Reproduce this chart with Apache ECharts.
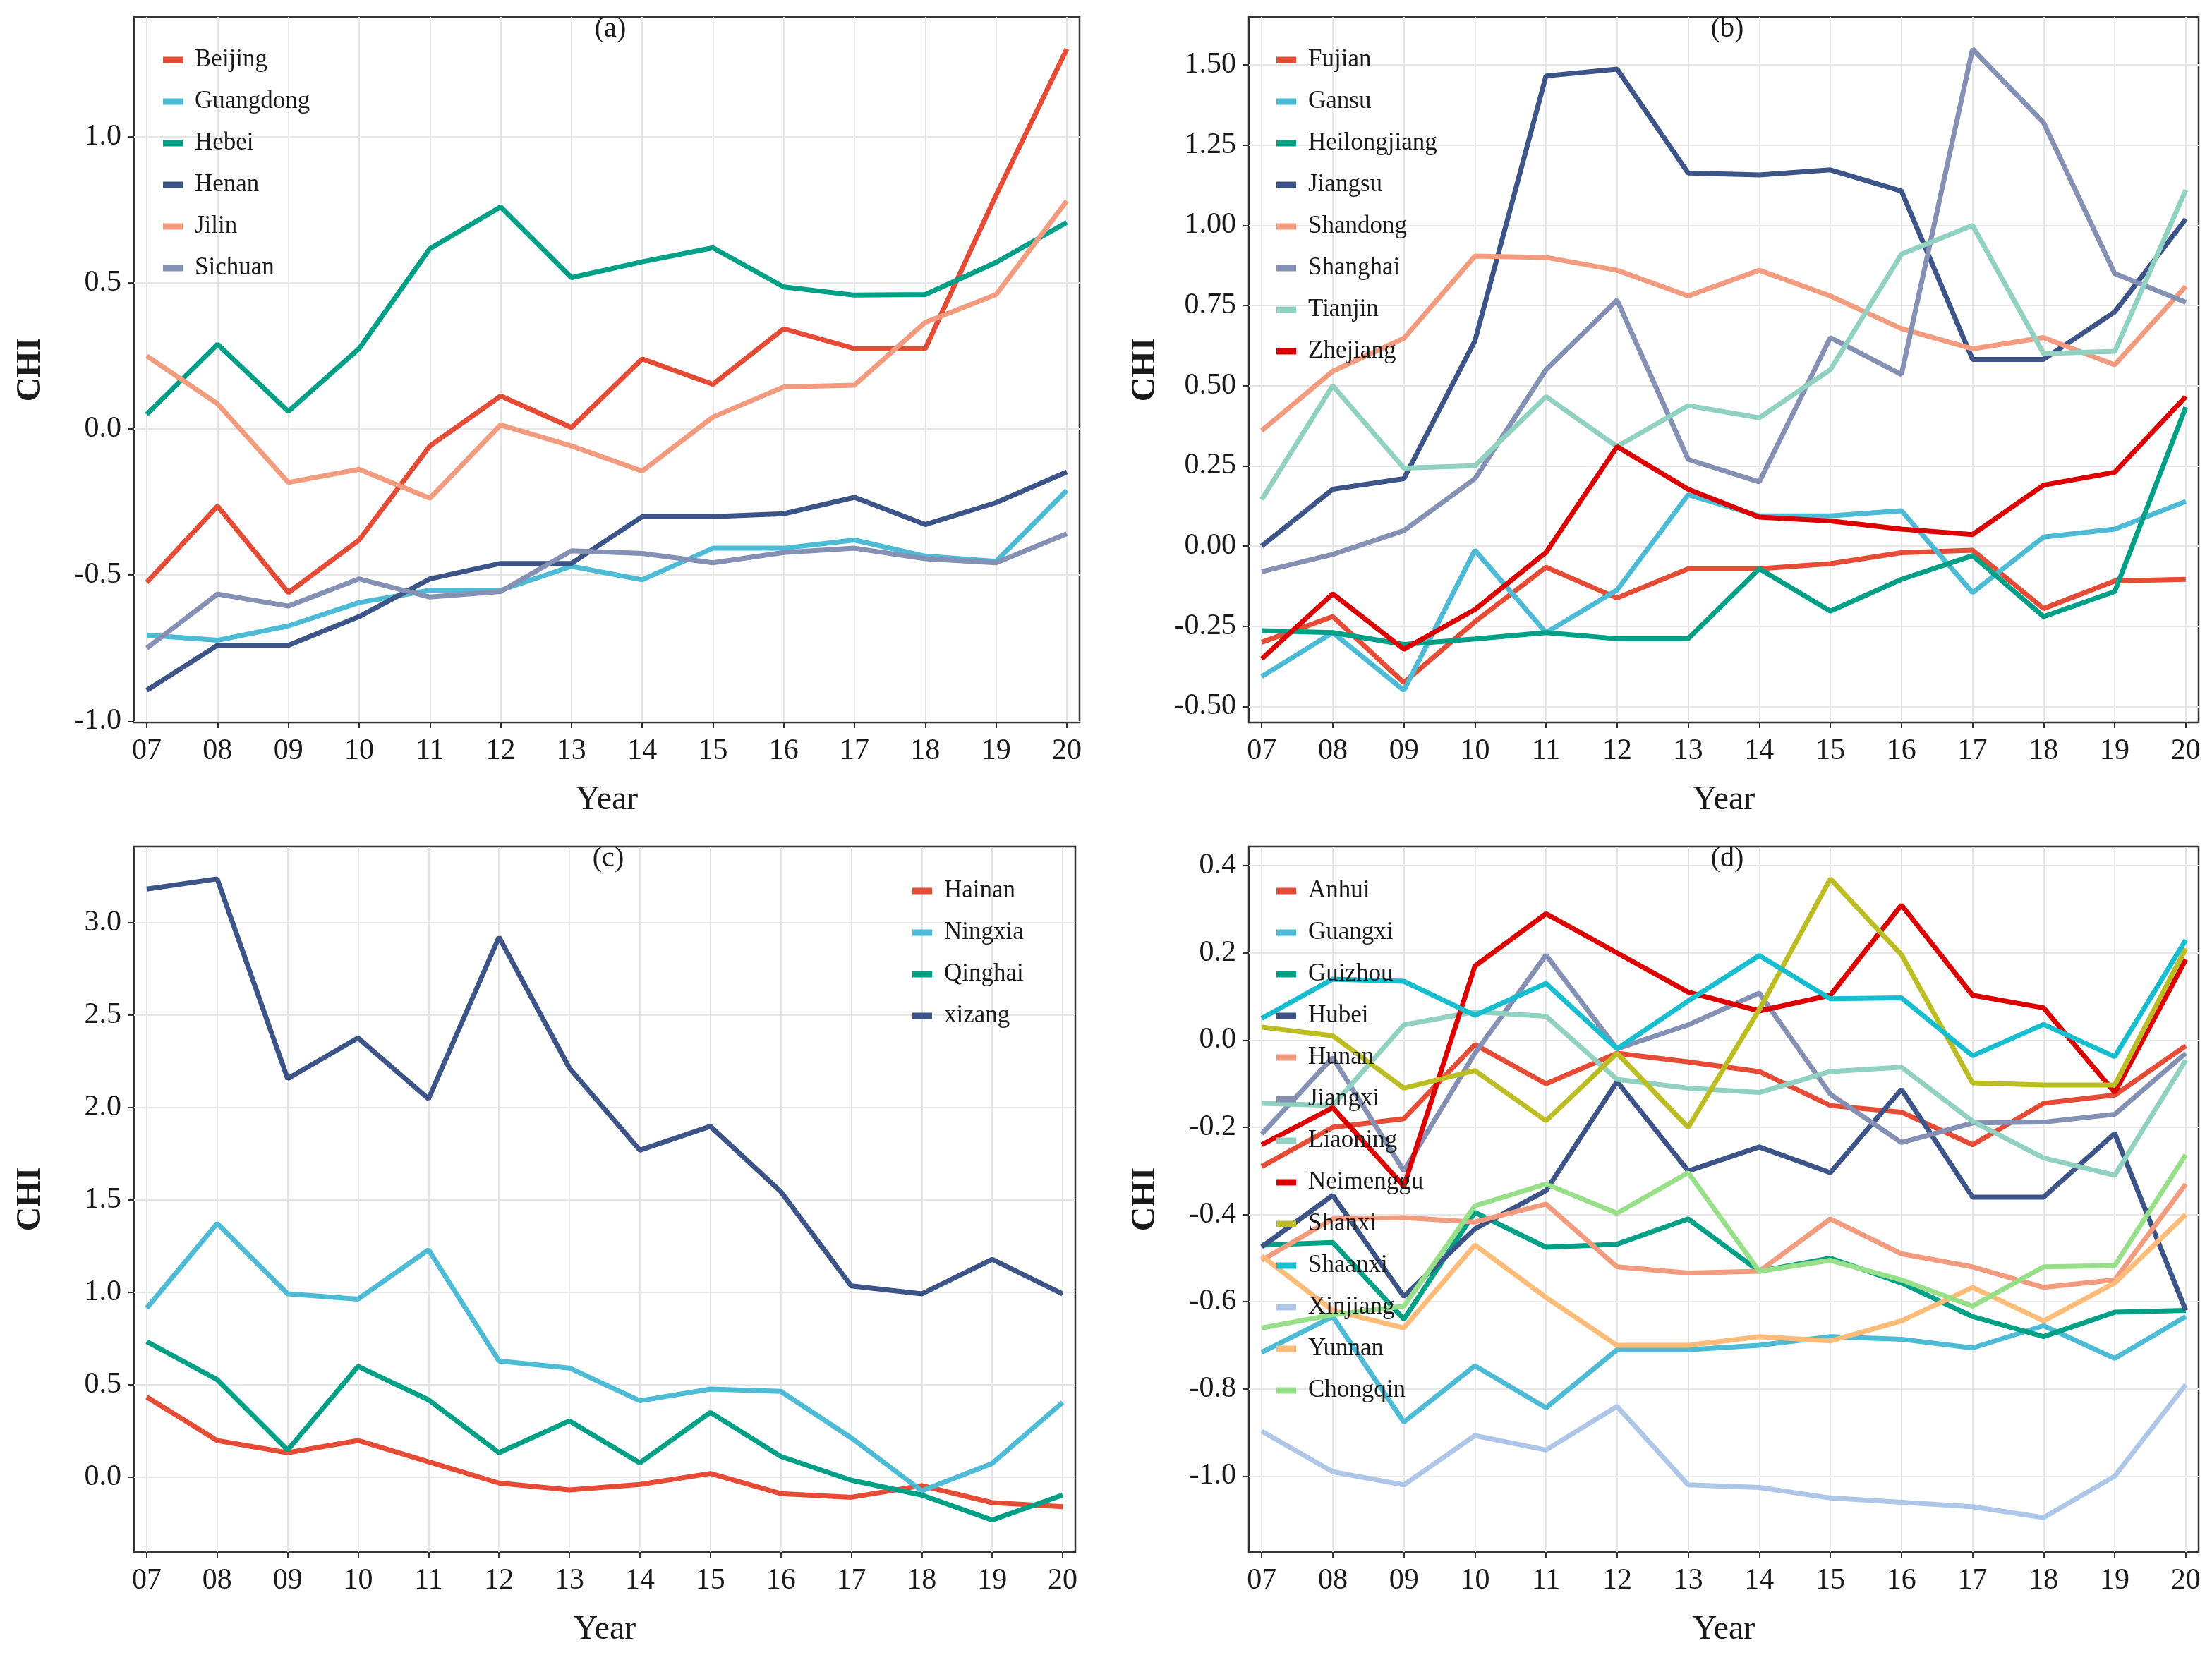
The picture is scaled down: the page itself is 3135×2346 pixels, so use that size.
<!DOCTYPE html>
<html>
<head>
<meta charset="utf-8">
<script src="https://cdn.jsdelivr.net/npm/echarts@6/dist/echarts.min.js"></script>
<style>
  html, body { margin: 0; padding: 0; background: #fff; }
  #chart { width: 3135px; height: 2346px; }
</style>
</head>
<body>
<div id="chart"></div>
<script>
var years = [7, 8, 9, 10, 11, 12, 13, 14, 15, 16, 17, 18, 19, 20];

// panel (a)
var Beijing   = [-0.525, -0.264, -0.56, -0.38, -0.058, 0.113, 0.005, 0.24, 0.153, 0.343, 0.275, 0.275, 0.80, 1.30];
var Guangdong = [-0.705, -0.723, -0.674, -0.594, -0.552, -0.552, -0.47, -0.516, -0.408, -0.408, -0.38, -0.435, -0.453, -0.21];
var Hebei     = [0.05, 0.29, 0.06, 0.275, 0.617, 0.76, 0.518, 0.572, 0.62, 0.486, 0.458, 0.46, 0.57, 0.707];
var Henan     = [-0.894, -0.74, -0.74, -0.642, -0.513, -0.46, -0.46, -0.30, -0.30, -0.29, -0.234, -0.327, -0.252, -0.147];
var Jilin     = [0.25, 0.086, -0.183, -0.138, -0.237, 0.014, -0.058, -0.144, 0.041, 0.144, 0.15, 0.365, 0.46, 0.78];
var Sichuan   = [-0.75, -0.565, -0.606, -0.513, -0.575, -0.556, -0.417, -0.426, -0.458, -0.423, -0.408, -0.444, -0.458, -0.358];

// panel (b)
var Fujian       = [-0.30, -0.22, -0.426, -0.236, -0.066, -0.162, -0.071, -0.071, -0.055, -0.021, -0.013, -0.195, -0.109, -0.104];
var Gansu        = [-0.407, -0.27, -0.45, -0.013, -0.27, -0.137, 0.16, 0.094, 0.094, 0.11, -0.145, 0.028, 0.053, 0.139];
var Heilongjiang = [-0.264, -0.27, -0.307, -0.29, -0.27, -0.289, -0.289, -0.071, -0.203, -0.104, -0.03, -0.22, -0.142, 0.433];
var Jiangsu      = [0.0, 0.177, 0.21, 0.64, 1.466, 1.487, 1.163, 1.157, 1.173, 1.107, 0.582, 0.582, 0.73, 1.02];
var Shandong     = [0.36, 0.545, 0.648, 0.904, 0.90, 0.86, 0.78, 0.86, 0.78, 0.678, 0.615, 0.65, 0.565, 0.81];
var Shanghai     = [-0.08, -0.026, 0.048, 0.21, 0.55, 0.767, 0.27, 0.20, 0.65, 0.535, 1.55, 1.32, 0.85, 0.76];
var Tianjin      = [0.145, 0.50, 0.243, 0.25, 0.466, 0.31, 0.438, 0.40, 0.55, 0.91, 1.0, 0.60, 0.607, 1.11];
var Zhejiang     = [-0.352, -0.149, -0.322, -0.198, -0.02, 0.31, 0.177, 0.09, 0.078, 0.053, 0.036, 0.19, 0.23, 0.466];

// panel (c)
var Hainan  = [0.433, 0.198, 0.132, 0.198, 0.083, -0.032, -0.069, -0.04, 0.02, -0.089, -0.109, -0.046, -0.138, -0.16];
var Ningxia = [0.914, 1.372, 0.991, 0.963, 1.229, 0.628, 0.59, 0.413, 0.476, 0.464, 0.212, -0.074, 0.074, 0.404];
var Qinghai = [0.733, 0.527, 0.146, 0.599, 0.418, 0.132, 0.304, 0.077, 0.35, 0.112, -0.017, -0.097, -0.232, -0.097];
var xizang  = [3.18, 3.235, 2.155, 2.375, 2.046, 2.92, 2.212, 1.768, 1.897, 1.544, 1.034, 0.991, 1.178, 0.991];

// panel (d)
var Anhui     = [-0.29, -0.20, -0.18, -0.01, -0.10, -0.03, -0.05, -0.072, -0.15, -0.165, -0.24, -0.145, -0.126, -0.013];
var Guangxi   = [-0.716, -0.634, -0.876, -0.747, -0.843, -0.71, -0.71, -0.70, -0.68, -0.686, -0.706, -0.655, -0.73, -0.634];
var Guizhou   = [-0.47, -0.464, -0.64, -0.395, -0.475, -0.468, -0.41, -0.53, -0.50, -0.557, -0.634, -0.68, -0.624, -0.62];
var Hubei     = [-0.474, -0.356, -0.588, -0.433, -0.345, -0.095, -0.30, -0.245, -0.304, -0.113, -0.36, -0.36, -0.214, -0.62];
var Hunan     = [-0.505, -0.41, -0.407, -0.417, -0.376, -0.52, -0.534, -0.53, -0.41, -0.49, -0.52, -0.567, -0.55, -0.33];
var Jiangxi   = [-0.215, -0.04, -0.30, -0.03, 0.195, -0.02, 0.035, 0.108, -0.124, -0.235, -0.19, -0.188, -0.17, -0.03];
var Liaoning  = [-0.145, -0.15, 0.035, 0.065, 0.055, -0.09, -0.11, -0.12, -0.072, -0.062, -0.186, -0.27, -0.31, -0.046];
var Neimenggu = [-0.24, -0.155, -0.335, 0.17, 0.29, 0.20, 0.11, 0.067, 0.103, 0.31, 0.103, 0.074, -0.12, 0.185];
var Shanxi    = [0.03, 0.01, -0.11, -0.07, -0.185, -0.03, -0.20, 0.07, 0.37, 0.196, -0.098, -0.103, -0.103, 0.21];
var Shaanxi   = [0.05, 0.14, 0.135, 0.057, 0.13, -0.02, 0.09, 0.194, 0.095, 0.097, -0.036, 0.036, -0.038, 0.23];
var Xinjiang  = [-0.897, -0.99, -1.02, -0.907, -0.94, -0.84, -1.02, -1.026, -1.05, -1.06, -1.07, -1.095, -1.0, -0.79];
var Yunnan    = [-0.495, -0.62, -0.66, -0.47, -0.59, -0.70, -0.70, -0.68, -0.69, -0.644, -0.567, -0.644, -0.557, -0.40];
var Chongqin  = [-0.66, -0.63, -0.61, -0.38, -0.33, -0.397, -0.304, -0.53, -0.505, -0.55, -0.61, -0.52, -0.517, -0.263];

var npg = ['#E64B35', '#4DBBD5', '#00A087', '#3C5488', '#F39B7F', '#8491B4', '#91D1C2', '#DC0000'];
var extra = ['#BCBD22', '#17BECF', '#AEC7E8', '#FFBB78', '#98DF8A'];
var pal = npg.concat(extra);

var panels = [
  { tag: '(a)', left: 190, top: 24, width: 1340, ymin: -1.004, ymax: 1.41, yticks: [-1, -0.5, 0, 0.5, 1], dec: 1,
    legendLeft: 226, legendTop: 60,
    names: ['Beijing', 'Guangdong', 'Hebei', 'Henan', 'Jilin', 'Sichuan'],
    data: [Beijing, Guangdong, Hebei, Henan, Jilin, Sichuan] },
  { tag: '(b)', left: 1770, top: 24, width: 1346, ymin: -0.55, ymax: 1.65, yticks: [-0.5, -0.25, 0, 0.25, 0.5, 0.75, 1, 1.25, 1.5], dec: 2,
    legendLeft: 1804, legendTop: 60,
    names: ['Fujian', 'Gansu', 'Heilongjiang', 'Jiangsu', 'Shandong', 'Shanghai', 'Tianjin', 'Zhejiang'],
    data: [Fujian, Gansu, Heilongjiang, Jiangsu, Shandong, Shanghai, Tianjin, Zhejiang] },
  { tag: '(c)', left: 190, top: 1200, width: 1334, ymin: -0.405, ymax: 3.41, yticks: [0, 0.5, 1, 1.5, 2, 2.5, 3], dec: 1,
    legendLeft: 1288, legendTop: 1238,
    names: ['Hainan', 'Ningxia', 'Qinghai', 'xizang'],
    data: [Hainan, Ningxia, Qinghai, xizang] },
  { tag: '(d)', left: 1770, top: 1200, width: 1346, ymin: -1.174, ymax: 0.444, yticks: [-1, -0.8, -0.6, -0.4, -0.2, 0, 0.2, 0.4], dec: 1,
    legendLeft: 1804, legendTop: 1238,
    names: ['Anhui', 'Guangxi', 'Guizhou', 'Hubei', 'Hunan', 'Jiangxi', 'Liaoning', 'Neimenggu', 'Shanxi', 'Shaanxi', 'Xinjiang', 'Yunnan', 'Chongqin'],
    data: [Anhui, Guangxi, Guizhou, Hubei, Hunan, Jiangxi, Liaoning, Neimenggu, Shanxi, Shaanxi, Xinjiang, Yunnan, Chongqin] }
];

var FONT = '"Liberation Serif", "DejaVu Serif", serif';
var grids = [], xAxes = [], yAxes = [], series = [], legends = [], titles = [];

for (var p = 0; p < panels.length; p++) {
  var P = panels[p];
  grids.push({
    left: P.left, top: P.top, width: P.width, height: 1000,
    show: true, borderColor: '#333', borderWidth: 2.5, backgroundColor: 'transparent'
  });
  xAxes.push({
    gridIndex: p, type: 'value', min: 6.82, max: 20.18,
    name: 'Year', nameLocation: 'middle', nameGap: 86,
    nameTextStyle: { fontFamily: FONT, fontSize: 48, color: '#1a1a1a' },
    axisLine: { show: false, onZero: false },
    axisTick: { show: true, length: 8, customValues: years, lineStyle: { color: '#333', width: 2 } },
    axisLabel: {
      customValues: years, margin: 20, fontFamily: FONT, fontSize: 42, color: '#1a1a1a',
      formatter: function (v) { return (v < 10 ? '0' : '') + v; }
    },
    splitLine: { show: true, lineStyle: { color: '#E6E6E6', width: 2 } }
  });
  (function (dec) {
    yAxes.push({
      gridIndex: p, type: 'value', min: P.ymin, max: P.ymax,
      name: 'CHI', nameLocation: 'middle', nameGap: 122, nameRotate: 90,
      nameTextStyle: { fontFamily: FONT, fontSize: 48, fontWeight: 'bold', color: '#1a1a1a' },
      axisLine: { show: false, onZero: false },
      axisTick: { show: true, length: 8, customValues: P.yticks, lineStyle: { color: '#333', width: 2 } },
      axisLabel: {
        customValues: P.yticks, margin: 18, fontFamily: FONT, fontSize: 42, color: '#1a1a1a',
        formatter: function (v) { return v.toFixed(dec); }
      },
      splitLine: { show: true, lineStyle: { color: '#E6E6E6', width: 2 } }
    });
  })(P.dec);

  titles.push({
    text: P.tag, left: P.left + P.width / 2, top: P.top - 8, textAlign: 'center',
    textStyle: { fontFamily: FONT, fontSize: 40, fontWeight: 'normal', color: '#1a1a1a' }
  });

  legends.push({
    data: P.names, orient: 'vertical', left: P.legendLeft, top: P.legendTop,
    icon: 'rect', itemWidth: 28, itemHeight: 9, itemGap: 19,
    textStyle: { fontFamily: FONT, fontSize: 35, color: '#1a1a1a', lineHeight: 40, padding: [0, 0, 0, 12] },
    selectedMode: false
  });

  for (var s = 0; s < P.names.length; s++) {
    var arr = P.data[s];
    var pts = [];
    for (var i = 0; i < years.length; i++) pts.push([years[i], arr[i]]);
    series.push({
      name: P.names[s], type: 'line', xAxisIndex: p, yAxisIndex: p,
      data: pts, showSymbol: false, symbol: 'none', smooth: false,
      color: pal[s],
      lineStyle: { width: 7, color: pal[s] },
      animation: false
    });
  }
}

var chart = echarts.init(document.getElementById('chart'));
chart.setOption({
  backgroundColor: '#fff',
  animation: false,
  title: titles,
  legend: legends,
  grid: grids,
  xAxis: xAxes,
  yAxis: yAxes,
  series: series
});
</script>
</body>
</html>
